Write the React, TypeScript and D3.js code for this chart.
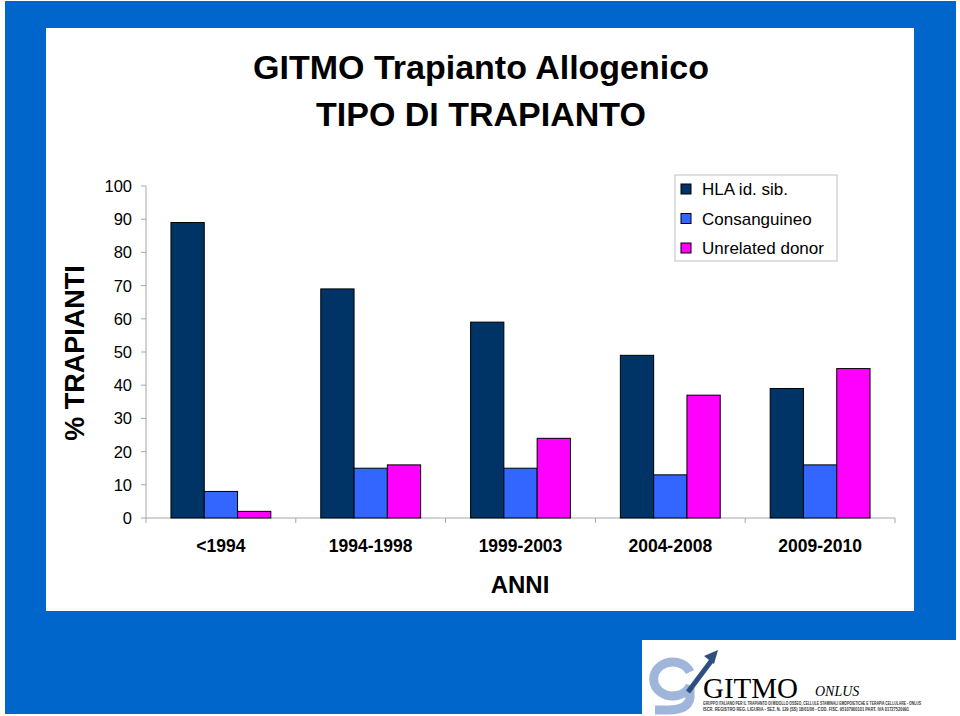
import React, { useRef, useEffect } from "react";
import * as d3 from "d3";

const periods = ["<1994", "1994-1998", "1999-2003", "2004-2008", "2009-2010"];
const seriesNames = ["HLA id. sib.", "Consanguineo", "Unrelated donor"];
const seriesColors = ["#003366", "#3366ff", "#ff00ff"];
const hlaSib = [89, 69, 59, 49, 39];
const consanguineo = [8, 15, 15, 13, 16];
const unrelated = [2, 16, 24, 37, 45];
const yTicks = [0, 10, 20, 30, 40, 50, 60, 70, 80, 90, 100];

const FONT = "'Liberation Sans', Arial, Helvetica, sans-serif";
const SERIF = "'Liberation Serif', 'Times New Roman', serif";

export default function App() {
  const ref = useRef<SVGSVGElement>(null);

  useEffect(() => {
    const svg = d3.select(ref.current);
    svg.selectAll("*").remove();

    const width = 960;
    const height = 716;

    // page frame
    svg.append("rect").attr("width", width).attr("height", height).attr("fill", "#ffffff");
    svg.append("rect")
      .attr("x", 5).attr("y", 1)
      .attr("width", 951).attr("height", 713)
      .attr("fill", "#0066cc");
    svg.append("rect")
      .attr("x", 46).attr("y", 28)
      .attr("width", 868).attr("height", 583)
      .attr("fill", "#ffffff");

    // titles
    const titles = ["GITMO Trapianto Allogenico", "TIPO DI TRAPIANTO"];
    svg.append("g")
      .selectAll("text")
      .data(titles)
      .join("text")
      .attr("x", 481)
      .attr("y", (d, i) => 79 + i * 47)
      .attr("text-anchor", "middle")
      .style("font-family", FONT)
      .style("font-size", "34px")
      .style("font-weight", "bold")
      .text((d) => d);

    // chart area
    const left = 146, right = 895, top = 186, bottom = 518;

    const x0 = d3.scaleBand().domain(periods).range([left, right]).padding(0);
    const x1 = d3
      .scaleBand()
      .domain(seriesNames)
      .range([x0.bandwidth() / 6, (x0.bandwidth() * 5) / 6])
      .padding(0);
    const y = d3.scaleLinear().domain([0, 100]).range([bottom, top]);

    const data = periods.map((p, i) => ({
      period: p,
      values: [hlaSib[i], consanguineo[i], unrelated[i]],
    }));

    // y axis
    const yAxis = svg.append("g").attr("transform", `translate(${left},0)`);
    yAxis.append("line")
      .attr("x1", 0).attr("x2", 0)
      .attr("y1", y(100)).attr("y2", y(0))
      .attr("stroke", "#a6a6a6");
    yAxis.selectAll("line.tick")
      .data(yTicks)
      .join("line")
      .attr("class", "tick")
      .attr("x1", -5).attr("x2", 0)
      .attr("y1", (d) => y(d)).attr("y2", (d) => y(d))
      .attr("stroke", "#a6a6a6");
    yAxis.selectAll("text")
      .data(yTicks)
      .join("text")
      .attr("x", -14)
      .attr("y", (d) => y(d))
      .attr("dy", "0.36em")
      .attr("text-anchor", "end")
      .style("font-family", FONT)
      .style("font-size", "16.5px")
      .text((d) => d);

    // x axis
    const xAxis = svg.append("g");
    xAxis.append("line")
      .attr("x1", left).attr("x2", right)
      .attr("y1", bottom).attr("y2", bottom)
      .attr("stroke", "#a6a6a6");
    const bounds = periods.map((p) => x0(p) as number).concat([right]);
    xAxis.selectAll("line.tick")
      .data(bounds)
      .join("line")
      .attr("class", "tick")
      .attr("x1", (d) => d).attr("x2", (d) => d)
      .attr("y1", bottom).attr("y2", bottom + 5)
      .attr("stroke", "#a6a6a6");
    xAxis.selectAll("text")
      .data(periods)
      .join("text")
      .attr("x", (d) => (x0(d) as number) + x0.bandwidth() / 2)
      .attr("y", 552)
      .attr("text-anchor", "middle")
      .style("font-family", FONT)
      .style("font-size", "17.5px")
      .style("font-weight", "bold")
      .text((d) => d);

    // bars
    const groups = svg.append("g")
      .selectAll("g")
      .data(data)
      .join("g")
      .attr("transform", (d) => `translate(${x0(d.period)},0)`);
    groups.selectAll("rect")
      .data((d) => d.values.map((v, i) => ({ name: seriesNames[i], value: v, color: seriesColors[i] })))
      .join("rect")
      .attr("x", (d) => x1(d.name) as number)
      .attr("y", (d) => y(d.value))
      .attr("width", x1.bandwidth())
      .attr("height", (d) => y(0) - y(d.value))
      .attr("fill", (d) => d.color)
      .attr("stroke", "#000")
      .attr("stroke-width", 1);

    // axis titles
    svg.append("text")
      .attr("x", 520)
      .attr("y", 593)
      .attr("text-anchor", "middle")
      .style("font-family", FONT)
      .style("font-size", "24px")
      .style("font-weight", "bold")
      .text("ANNI");
    svg.append("text")
      .attr("transform", "translate(84,353) rotate(-90)")
      .attr("text-anchor", "middle")
      .style("font-family", FONT)
      .style("font-size", "27px")
      .style("font-weight", "bold")
      .text("% TRAPIANTI");

    // legend
    const legend = svg.append("g").attr("transform", "translate(675,175)");
    legend.append("rect")
      .attr("width", 162).attr("height", 86)
      .attr("fill", "#fff")
      .attr("stroke", "#bfbfbf");
    const items = legend.selectAll("g")
      .data(seriesNames)
      .join("g")
      .attr("transform", (d, i) => `translate(0,${14 + i * 29.5})`);
    items.append("rect")
      .attr("x", 6).attr("y", -5)
      .attr("width", 10).attr("height", 10)
      .attr("fill", (d, i) => seriesColors[i])
      .attr("stroke", "#000");
    items.append("text")
      .attr("x", 27)
      .attr("dy", "0.36em")
      .style("font-family", FONT)
      .style("font-size", "17px")
      .text((d) => d);

    // logo
    const logo = svg.append("g");
    logo.append("rect")
      .attr("x", 642).attr("y", 640)
      .attr("width", 318).attr("height", 76)
      .attr("fill", "#fff");
    logo.append("path")
      .attr("d", "M690,672 A19,17 0 1 0 690,686 L690,698 Q688,710 668,710 L655,710")
      .attr("fill", "none")
      .attr("stroke", "#9fb6da")
      .attr("stroke-width", 9);
    logo.append("line")
      .attr("x1", 688).attr("y1", 692)
      .attr("x2", 712).attr("y2", 660)
      .attr("stroke", "#2d4f80")
      .attr("stroke-width", 5);
    logo.append("path")
      .attr("d", "M718,650 L704,656 L714,664 Z")
      .attr("fill", "#2d4f80");
    logo.append("text")
      .attr("x", 703).attr("y", 698)
      .style("font-family", SERIF)
      .style("font-size", "29px")
      .text("GITMO");
    logo.append("text")
      .attr("x", 815).attr("y", 696)
      .style("font-family", SERIF)
      .style("font-size", "14px")
      .style("font-style", "italic")
      .text("ONLUS");
    const small = [
      "GRUPPO ITALIANO PER IL TRAPIANTO DI MIDOLLO OSSEO, CELLULE STAMINALI EMOPOIETICHE E TERAPIA CELLULARE - ONLUS",
      "ISCR. REGISTRO REG. LIGURIA - SEZ. N. 129 (SS) 18/01/06 - COD. FISC. 95107900101 PART. IVA 01727520991",
    ];
    logo.selectAll("text.small")
      .data(small)
      .join("text")
      .attr("class", "small")
      .attr("x", 703)
      .attr("y", (d, i) => 705 + i * 5.5)
      .attr("textLength", (d, i) => (i === 0 ? 218 : 206))
      .attr("lengthAdjust", "spacingAndGlyphs")
      .style("font-family", FONT)
      .style("font-size", "4.5px")
      .style("font-weight", "bold")
      .attr("fill", "#333")
      .text((d) => d);
  }, []);

  return (
    <svg
      ref={ref}
      width={960}
      height={716}
      style={{ position: "absolute", left: 0, top: 0, display: "block" }}
    />
  );
}
